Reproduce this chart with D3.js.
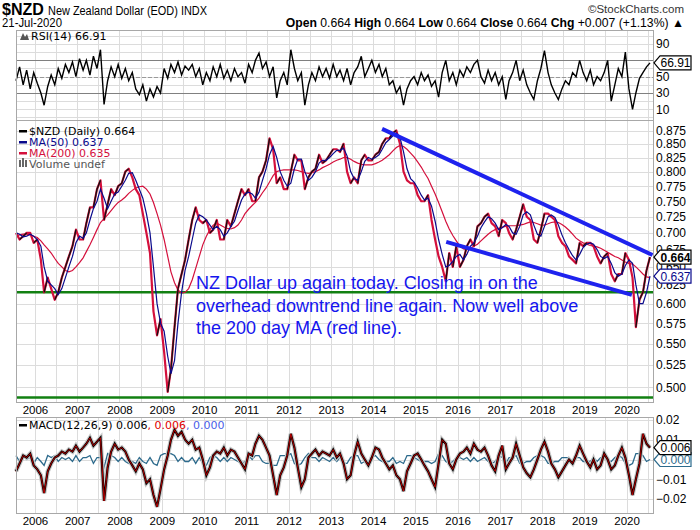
<!DOCTYPE html>
<html><head><meta charset="utf-8">
<script src="https://cdn.jsdelivr.net/npm/d3@7/dist/d3.min.js"></script>
<style>body{margin:0;background:#fff}svg{display:block}</style>
</head><body>
<svg id="c" width="700" height="530"></svg>
<script>
// ---- DATA (monthly, Jul 2005 .. Jul 2020) ----
const yearLabels = [2006,2007,2008,2009,2010,2011,2012,2013,2014,2015,2016,2017,2018,2019,2020];
const priceTicks = [0.500,0.525,0.550,0.575,0.600,0.625,0.650,0.675,0.700,0.725,0.750,0.775,0.800,0.825,0.850,0.875];
const rsiTicks = [10,30,50,90];
const macdTicks = [-0.02,-0.01,0.01,0.02];
const price = [
0.700,0.690,0.695,0.700,0.700,0.685,
0.690,0.660,0.615,0.635,0.620,0.605,0.615,0.635,0.650,0.665,0.680,0.705,
0.690,0.690,0.715,0.740,0.740,0.770,0.785,0.720,0.745,0.770,0.760,0.775,
0.780,0.800,0.805,0.790,0.770,0.760,0.730,0.700,0.670,0.590,0.560,0.580,
0.540,0.495,0.520,0.570,0.620,0.640,0.660,0.690,0.720,0.740,0.720,0.715,
0.720,0.700,0.705,0.720,0.690,0.690,0.720,0.710,0.730,0.750,0.770,0.760,
0.770,0.750,0.750,0.790,0.800,0.820,0.860,0.840,0.780,0.790,0.770,0.770,
0.800,0.830,0.820,0.820,0.770,0.790,0.800,0.805,0.830,0.815,0.820,0.830,
0.840,0.840,0.835,0.850,0.800,0.780,0.790,0.780,0.820,0.830,0.820,0.820,
0.830,0.835,0.850,0.860,0.860,0.870,0.875,0.850,0.800,0.785,0.780,0.780,
0.760,0.750,0.750,0.760,0.720,0.690,0.665,0.650,0.630,0.670,0.650,0.680,
0.650,0.660,0.680,0.690,0.680,0.710,0.715,0.725,0.730,0.715,0.710,0.695,
0.720,0.715,0.700,0.690,0.705,0.725,0.745,0.725,0.720,0.690,0.685,0.705,
0.730,0.730,0.725,0.720,0.695,0.685,0.680,0.665,0.660,0.655,0.685,0.680,
0.685,0.685,0.680,0.665,0.655,0.665,0.670,0.640,0.630,0.640,0.640,0.670,
0.660,0.635,0.570,0.605,0.615,0.645,0.664];
const ma50 = [
0.700,0.698,0.694,0.695,0.698,0.695,
0.690,0.680,0.650,0.630,0.625,0.620,0.612,0.620,0.635,0.650,0.665,0.685,
0.695,0.692,0.700,0.720,0.738,0.750,0.770,0.755,0.738,0.750,0.762,0.765,
0.775,0.785,0.797,0.798,0.785,0.770,0.755,0.730,0.700,0.650,0.600,0.575,
0.565,0.535,0.515,0.530,0.575,0.615,0.645,0.665,0.690,0.715,0.728,0.725,
0.720,0.712,0.705,0.710,0.705,0.695,0.700,0.710,0.718,0.735,0.752,0.762,
0.765,0.762,0.755,0.765,0.785,0.805,0.830,0.845,0.825,0.800,0.785,0.775,
0.780,0.805,0.822,0.822,0.800,0.785,0.790,0.800,0.815,0.820,0.820,0.825,
0.832,0.838,0.838,0.842,0.828,0.800,0.788,0.785,0.800,0.818,0.825,0.822,
0.825,0.830,0.840,0.852,0.858,0.865,0.870,0.862,0.835,0.805,0.788,0.782,
0.772,0.760,0.752,0.755,0.742,0.718,0.690,0.668,0.650,0.652,0.658,0.665,
0.668,0.660,0.668,0.680,0.685,0.695,0.708,0.717,0.725,0.722,0.715,0.705,
0.708,0.713,0.710,0.700,0.698,0.710,0.728,0.733,0.728,0.712,0.698,0.695,
0.710,0.725,0.728,0.724,0.712,0.697,0.685,0.675,0.666,0.660,0.668,0.678,
0.683,0.685,0.683,0.675,0.665,0.662,0.665,0.655,0.642,0.637,0.640,0.652,
0.660,0.655,0.625,0.600,0.600,0.615,0.637];
const ma200 = [
0.695,0.697,0.698,0.698,0.697,0.695,
0.693,0.688,0.682,0.676,0.670,0.662,0.655,0.650,0.645,0.643,0.645,0.650,
0.656,0.663,0.672,0.682,0.693,0.705,0.716,0.722,0.728,0.735,0.742,0.748,
0.752,0.757,0.763,0.768,0.772,0.774,0.775,0.770,0.762,0.748,0.730,0.712,
0.690,0.665,0.643,0.628,0.618,0.614,0.615,0.620,0.632,0.648,0.665,0.682,
0.695,0.705,0.712,0.715,0.712,0.709,0.707,0.706,0.708,0.712,0.720,0.730,
0.737,0.743,0.748,0.755,0.764,0.772,0.782,0.793,0.800,0.802,0.803,0.803,
0.803,0.803,0.802,0.800,0.798,0.797,0.798,0.800,0.803,0.807,0.810,0.813,
0.817,0.820,0.822,0.825,0.825,0.822,0.818,0.815,0.813,0.812,0.812,0.812,
0.814,0.817,0.820,0.825,0.830,0.837,0.843,0.847,0.845,0.840,0.833,0.826,
0.817,0.808,0.798,0.788,0.775,0.762,0.748,0.733,0.718,0.706,0.696,0.688,
0.680,0.676,0.675,0.677,0.680,0.683,0.688,0.693,0.698,0.702,0.705,0.707,
0.709,0.710,0.711,0.711,0.711,0.712,0.713,0.715,0.717,0.716,0.714,0.712,
0.712,0.714,0.716,0.717,0.716,0.713,0.709,0.704,0.698,0.692,0.688,0.685,
0.683,0.681,0.680,0.679,0.677,0.674,0.671,0.668,0.665,0.663,0.660,0.657,
0.655,0.654,0.650,0.645,0.640,0.636,0.635];
const rsi = [
45,62,40,58,35,55,42,30,15,38, 52,40,60,48,65,55,68,50,72,58,
70,52,75,60,83,16,45,62,50,65, 48,60,45,55,35,28,40,20,35,25,
38,30,60,48,65,55,68,52,63,58, 65,50,60,40,55,45,62,50,65,48,
58,45,60,50,55,42,65,55,70,79, 60,68,50,62,24,45,55,40,83,60,
45,55,15,40,55,45,62,50,60,48, 65,50,58,45,60,40,55,62,75,50,
60,70,55,65,50,60,40,45,30,38, 15,35,45,50,40,55,45,52,38,45,
25,55,70,45,55,40,58,50,62,55, 65,70,50,42,58,45,55,40,50,22,
45,55,70,45,58,40,30,22,45,60, 82,55,40,30,22,35,45,40,55,50,
70,55,45,58,40,50,45,55,70,20, 40,60,50,80,35,10,30,48,55,62,
66.91];
const macd = [
-0.006,-0.002,0.002,0.001,0.003,-0.003,-0.005,-0.008,-0.017,-0.006,
-0.002,0.001,0.002,0.004,0.003,0.005,0.004,0.007,0.004,0.006,
0.008,0.011,0.007,0.009,0.011,-0.021,-0.004,0.004,0.008,0.005,
0.006,0.004,0.000,-0.003,-0.006,-0.002,-0.005,-0.012,-0.010,-0.018,
-0.024,-0.015,-0.005,0.002,0.010,0.015,0.012,0.014,0.010,0.008,
0.010,0.005,0.006,0.000,-0.008,-0.004,0.002,0.004,0.003,0.006,
0.002,0.005,0.004,0.001,-0.002,-0.005,0.003,0.002,0.008,0.012,
0.010,0.006,0.002,-0.008,-0.018,-0.008,-0.004,0.002,0.013,0.006,
-0.004,-0.014,-0.010,0.001,0.003,0.005,0.002,0.004,0.003,0.002,
0.005,0.001,0.003,-0.002,-0.010,-0.008,0.002,0.009,0.003,0.000,
-0.003,0.001,0.006,0.005,0.001,-0.002,-0.005,-0.003,-0.008,-0.010,
-0.016,-0.006,-0.002,0.002,0.003,0.000,-0.003,-0.006,-0.010,-0.014,
-0.002,0.010,0.008,-0.002,-0.005,0.000,0.003,0.004,0.006,0.003,
0.008,0.005,0.004,0.006,0.002,-0.003,-0.006,0.002,0.007,-0.005,
-0.002,0.001,0.008,0.002,-0.004,-0.007,-0.009,-0.005,0.000,0.005,
0.009,0.004,-0.002,-0.005,-0.009,-0.006,-0.003,0.000,-0.002,0.002,
0.007,0.003,-0.001,-0.004,0.000,-0.005,-0.003,0.003,0.000,-0.005,
-0.003,0.002,0.006,0.001,-0.008,-0.018,-0.010,-0.002,0.013,0.008,
0.006];
const macdHist = [
0.002,-0.001,0.002,0.000,0.001,-0.002,0.001,-0.001,-0.003,0.002,
0.001,0.002,-0.001,0.001,0.000,0.001,-0.001,0.002,-0.001,0.001,
0.001,0.002,-0.002,0.001,0.001,-0.004,0.003,0.002,0.001,-0.001,
0.001,-0.001,-0.002,-0.001,-0.002,0.001,-0.001,-0.002,0.001,-0.002,
-0.003,0.002,0.003,0.003,0.003,0.002,-0.001,0.001,-0.001,-0.001,
0.001,-0.002,0.001,-0.002,-0.003,0.001,0.002,0.001,-0.001,0.001,
-0.001,0.001,0.000,-0.001,-0.002,-0.001,0.002,0.000,0.002,0.002,
-0.001,-0.002,-0.002,-0.003,-0.003,0.002,0.002,0.002,0.003,-0.002,
-0.003,-0.002,0.001,0.003,0.001,0.001,-0.001,0.001,0.000,-0.001,
0.001,-0.001,0.001,-0.002,-0.002,0.001,0.002,0.002,-0.002,-0.001,
-0.001,0.001,0.002,0.000,-0.001,-0.001,-0.001,0.001,-0.002,-0.001,
-0.002,0.002,0.002,0.001,0.000,-0.001,-0.001,-0.001,-0.002,-0.001,
0.003,0.002,-0.001,-0.002,-0.001,0.001,0.001,0.000,0.001,-0.001,
0.001,-0.001,0.000,0.001,-0.001,-0.002,-0.001,0.002,0.001,-0.002,
0.001,0.001,0.002,-0.002,-0.002,-0.001,-0.001,0.001,0.002,0.002,
0.001,-0.002,-0.002,-0.001,-0.001,0.001,0.001,0.001,-0.001,0.001,
0.001,-0.001,-0.001,-0.001,0.001,-0.001,0.001,0.001,-0.001,-0.001,
0.001,0.002,0.001,-0.002,-0.003,-0.002,0.003,0.003,0.002,-0.001,
0.000];
// annotation lines (date, value)
const upperTrend = [["2014-03-20",0.878],["2020-08-12",0.667]];
const lowerTrend = [["2015-09-25",0.6865],["2020-02-15",0.6115]];
const supportLevels = [0.615, 0.489];
const noteLines = ["NZ Dollar up again today. Closing in on the","overhead downtrend line again. Now well above","the 200 day MA (red line)."];

// ---- LAYOUT ----
const svg = d3.select("#c");
const L = 16, R = 653;
const rsiP = {t:30, b:120}, mainP = {t:120, b:402}, macdP = {t:417, b:513};
const start = new Date(2005,6,21), end = new Date(2020,6,21);
const dates = price.map((d,i)=>d3.timeMonth.offset(start,i));
const x = d3.scaleTime().domain([start,end]).range([L,650]);
const y = d3.scaleLog().domain([0.5,0.875]).range([387.3,130.5]);
const yr = d3.scaleLinear().domain([10,90]).range([109.3,44]);
const ym = d3.scaleLinear().domain([-0.02,0.02]).range([499,420]);
const pd = d3.timeParse("%Y-%m-%d");
const AX = "'Liberation Sans', Arial, sans-serif";
const LG = "'DejaVu Sans', Verdana, sans-serif";
const grid = "#dcdcdc";
const RED = "#d4103c", NAVY = "#0a0a8c";

function vgrid(p){
  const ts = d3.timeMonth.every(6).range(new Date(2006,0,1), end);
  svg.append("g").selectAll("line").data(ts).join("line")
    .attr("x1",d=>Math.round(x(d))+0.5).attr("x2",d=>Math.round(x(d))+0.5).attr("y1",p.t).attr("y2",p.b)
    .attr("stroke",grid).attr("stroke-width",1);
}
function hgrid(p, vals, sc){
  svg.append("g").selectAll("line").data(vals).join("line")
    .attr("x1",L).attr("x2",R).attr("y1",d=>Math.round(sc(d))+0.5).attr("y2",d=>Math.round(sc(d))+0.5)
    .attr("stroke",grid).attr("stroke-width",1);
}
function frame(p){
  svg.append("rect").attr("x",L+0.5).attr("y",p.t+0.5).attr("width",R-L).attr("height",p.b-p.t)
    .attr("fill","none").attr("stroke","#a8a8a8").attr("stroke-width",1);
}
function rightAxis(sc, ticks, fmt){
  const a = d3.axisRight(sc).tickValues(ticks).tickSize(0).tickPadding(0);
  if(fmt) a.tickFormat(fmt);
  svg.append("g").attr("transform",`translate(${R+3},0)`).call(a)
    .call(g=>g.select(".domain").remove())
    .selectAll("text").attr("font-family",AX).attr("font-size",12).attr("fill","#000");
}

// ---- RSI PANEL ----
vgrid(rsiP);
hgrid(rsiP, d3.range(0,101,10), yr);
[70,30].forEach(v=>svg.append("line").attr("x1",L).attr("x2",R).attr("y1",Math.round(yr(v))+0.5).attr("y2",Math.round(yr(v))+0.5).attr("stroke","#808080").attr("stroke-width",1));
svg.append("line").attr("x1",L).attr("x2",R).attr("y1",Math.round(yr(50))+0.5).attr("y2",Math.round(yr(50))+0.5).attr("stroke","#999").attr("stroke-dasharray","4,2");
svg.append("path").datum(rsi).attr("fill","none").attr("stroke","#000").attr("stroke-width",1.4)
  .attr("d", d3.line().x((d,i)=>x(dates[i])).y(d=>yr(d)));
frame(rsiP);
rightAxis(yr, rsiTicks, null);

// ---- MAIN PANEL ----
vgrid(mainP);
hgrid(mainP, priceTicks, y);
supportLevels.forEach(v=>svg.append("line").attr("x1",L).attr("x2",R).attr("y1",y(v)).attr("y2",y(v)).attr("stroke","#128012").attr("stroke-width",2.5));
svg.append("path").datum(ma200).attr("fill","none").attr("stroke",RED).attr("stroke-width",1.2)
  .attr("d", d3.line().x((d,i)=>x(dates[i])).y(d=>y(d)));
const segs = price.slice(1).map((v,i)=>({a:price[i],b:v,i:i}));
svg.append("path").datum(price).attr("fill","none").attr("stroke",RED).attr("stroke-width",2.2).attr("stroke-linejoin","round")
  .attr("d", d3.line().x((d,i)=>x(dates[i])).y(d=>y(d)));
svg.append("g").selectAll("line").data(segs.filter(d=>d.b>d.a)).join("line")
  .attr("x1",d=>x(dates[d.i])).attr("x2",d=>x(dates[d.i+1]))
  .attr("y1",d=>y(d.a)).attr("y2",d=>y(d.b))
  .attr("stroke","#111").attr("stroke-width",1.3);
svg.append("path").datum(ma50).attr("fill","none").attr("stroke",NAVY).attr("stroke-width",1.2)
  .attr("d", d3.line().x((d,i)=>x(dates[i])).y(d=>y(d)));
[upperTrend, lowerTrend].forEach(t=>svg.append("line")
  .attr("x1",x(pd(t[0][0]))).attr("y1",y(t[0][1])).attr("x2",Math.min(R,x(pd(t[1][0])))).attr("y2",y(t[1][1]))
  .attr("stroke","#1e22ee").attr("stroke-width",4));
frame(mainP);
rightAxis(y, priceTicks, d3.format(".3f"));

// legend main
const lg = [["$NZD (Daily) 0.664","#000"],["MA(50) 0.637",NAVY],["MA(200) 0.635",RED],["Volume undef","#555"]];
lg.forEach((d,i)=>{
  const yy = 131 + i*11;
  if(i<3) svg.append("rect").attr("x",19).attr("y",yy-1).attr("width",8).attr("height",2.5).attr("fill",d[1]);
  else [0,3,6].forEach((o,k)=>svg.append("rect").attr("x",19+o).attr("y",yy-4+(k==1?-2:0)).attr("width",2).attr("height",k==1?9:7).attr("fill","#666"));
  svg.append("text").attr("x",29).attr("y",yy+4).attr("font-family",LG).attr("font-size",11).attr("fill",d[1]).text(d[0]);
});

// annotation text
noteLines.forEach((t,i)=>svg.append("text").attr("x",196).attr("y",289+i*22.5)
  .attr("font-family",AX).attr("font-size",18).attr("fill","#1515ee").text(t));

// ---- MACD PANEL ----
vgrid(macdP);
hgrid(macdP, [-0.02,-0.01,0,0.01,0.02], ym);
const ml = d3.line().x((d,i)=>x(dates[i])).y(d=>ym(d));
svg.append("path").datum(macdHist).attr("fill","none").attr("stroke","#2c6a8c").attr("stroke-width",1.3).attr("d",ml);
svg.append("path").datum(macd).attr("fill","none").attr("stroke","#c8c8c8").attr("stroke-width",4.5).attr("d",ml);
svg.append("path").datum(macd).attr("fill","none").attr("stroke","#000").attr("stroke-width",2.2).attr("d",ml);
svg.append("path").datum(macd).attr("fill","none").attr("stroke","#e00000").attr("stroke-width",0.8).attr("d",ml);
frame(macdP);
rightAxis(ym, macdTicks, d3.format(".2f"));
svg.append("rect").attr("x",19).attr("y",424).attr("width",8).attr("height",2.5).attr("fill","#000");
const mt = svg.append("text").attr("x",29).attr("y",429).attr("font-family",LG).attr("font-size",11);
mt.append("tspan").attr("fill","#000").text("MACD(12,26,9) 0.006");
mt.append("tspan").attr("fill","#e00000").text(", 0.006");
mt.append("tspan").attr("fill","#4a5ee8").text(", 0.000");

// ---- X AXES ----
const yearDates = yearLabels.map(v=>new Date(v,0,1));
[403, 514].forEach(ty=>{
  svg.append("g").attr("transform",`translate(0,${ty})`)
    .call(d3.axisBottom(x).tickValues(yearDates).tickSize(0).tickPadding(3).tickFormat(d3.timeFormat("%Y")))
    .call(g=>g.select(".domain").remove())
    .selectAll("text").attr("font-family",AX).attr("font-size",11.5).attr("fill","#000");
});

// ---- RIGHT VALUE TAGS ----
function tag(yv, txt, col, bold){
  const g = svg.append("g");
  g.append("path").attr("d",`M${R+1},${yv} L${R+7},${yv-7} L${R+38},${yv-7} L${R+38},${yv+7} L${R+7},${yv+7} Z`)
   .attr("fill","#fff").attr("stroke",col).attr("stroke-width",1.2);
  g.append("text").attr("x",R+22.5).attr("y",yv+4.5).attr("text-anchor","middle").attr("font-family",AX)
   .attr("font-size",12).attr("font-weight",bold?"bold":"normal").attr("fill",col).text(txt);
}
tag(yr(rsi[rsi.length-1]), "66.91", "#000", false);
tag(y(ma50[ma50.length-1]), "0.637", NAVY, false);
tag(y(price[price.length-1]), "0.664", "#000", true);
tag(ym(0), "0.000", "#2c6a8c", false);
tag(ym(macd[macd.length-1]), "0.006", "#000", false);

// RSI legend
svg.append("path").attr("d","M20,40 L23,33 L25,37 L27,34 L29,40 Z").attr("fill","#555");
svg.append("text").attr("x",31).attr("y",40).attr("font-family",LG).attr("font-size",11).attr("fill","#000").text("RSI(14) 66.91");

// ---- HEADER ----
svg.append("text").attr("x",2).attr("y",15).attr("font-family",AX).attr("font-weight","bold").attr("font-size",16).text("$NZD");
svg.append("text").attr("x",48).attr("y",15).attr("font-family",AX).attr("font-size",12.5)
  .attr("textLength",159).attr("lengthAdjust","spacingAndGlyphs").text("New Zealand Dollar (EOD) INDX");
svg.append("text").attr("x",2).attr("y",27).attr("font-family",AX).attr("font-size",12)
  .attr("textLength",60).attr("lengthAdjust","spacingAndGlyphs").text("21-Jul-2020");
svg.append("text").attr("x",684).attr("y",13).attr("text-anchor","end").attr("font-family",AX).attr("font-size",11.5).attr("fill","#333").text("\u00A9StockCharts.com");
const h2 = svg.append("text").attr("x",684).attr("y",27).attr("text-anchor","end").attr("font-family",AX).attr("font-size",12.2).attr("fill","#000");
[["Open",1],[" 0.664 ",0],["High",1],[" 0.664 ",0],["Low",1],[" 0.664 ",0],["Close",1],[" 0.664 ",0],["Chg",1],[" +0.007 (+1.13%) \u25B2",0]]
  .forEach(d=>h2.append("tspan").attr("font-weight",d[1]?"bold":"normal").text(d[0]));
</script>
</body></html>
